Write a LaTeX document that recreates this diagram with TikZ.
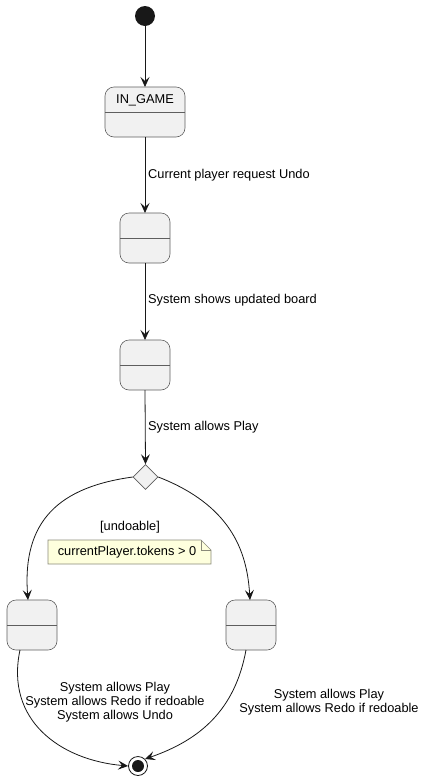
\documentclass[tikz,border=0pt]{standalone}
\usepackage{fontspec}
\setmainfont{Liberation Sans}
\usetikzlibrary{arrows.meta,shapes.geometric}
\definecolor{boxfill}{HTML}{F1F1F1}
\definecolor{boxline}{HTML}{5E5E5E}
\definecolor{linec}{HTML}{181818}
\definecolor{notefill}{HTML}{FEFFDD}
\definecolor{noteline}{HTML}{8A8A7A}
\begin{document}
\begin{tikzpicture}[x=1pt,y=-1pt,
  arr/.style={draw=linec,line width=0.8pt,-{Stealth[length=10pt,width=9pt,inset=4pt]}},
  lbl/.style={font=\fontsize{12.8}{14}\selectfont,inner sep=0pt,align=center},
  stbox/.style={draw=boxline,fill=boxfill,rounded corners=9pt,line width=0.6pt}]
\useasboundingbox (0,0) rectangle (427,780);
% start
\node[circle,fill=linec,minimum size=20pt,inner sep=0pt] (start) at (145,16) {};
% IN_GAME
\draw[stbox] (105,87) rectangle (185,137);
\draw[boxline,line width=0.6pt] (105,112) -- (185,112);
\node[lbl] (ingame) at (145,100) {IN\_GAME};
\coordinate (ingT) at (145,87);
\coordinate (ingB) at (145,137);
% box 2
\draw[stbox] (120,213) rectangle (170,263);
\draw[boxline,line width=0.6pt] (120,238) -- (170,238);
\coordinate (b2T) at (145,213);
\coordinate (b2B) at (145,263);
% box 3
\draw[stbox] (120,340) rectangle (170,390);
\draw[boxline,line width=0.6pt] (120,365) -- (170,365);
\coordinate (b3T) at (145,340);
\coordinate (b3B) at (145,390);
% diamond
\node[diamond,draw=boxline,fill=boxfill,minimum width=25pt,minimum height=25pt,inner sep=0pt,line width=0.6pt] (dec) at (145.5,477) {};
% left box
\draw[stbox] (7,600) rectangle (57,650);
\draw[boxline,line width=0.6pt] (7,625) -- (57,625);
\coordinate (lT) at (28,600);
\coordinate (lB) at (20,650);
% right box
\draw[stbox] (226,600) rectangle (276,650);
\draw[boxline,line width=0.6pt] (226,625) -- (276,625);
\coordinate (rT) at (250,600);
\coordinate (rB) at (246,650);
% final
\node[circle,draw=linec,fill=white,line width=0.8pt,minimum size=19pt,inner sep=0pt] (fin) at (138,766) {};
\node[circle,fill=linec,minimum size=12pt,inner sep=0pt] at (fin) {};
% arrows
\draw[arr] (start) -- (ingT);
\draw[arr] (ingB) -- (b2T);
\draw[arr] (b2B) -- (b3T);
\draw[arr] (b3B) -- (dec.north);
\draw[arr] (dec.west) .. controls (60,487) and (22,520) .. (lT);
\draw[arr] (dec.east) .. controls (230,505) and (247,550) .. (rT);
\draw[arr] (lB) .. controls (5,720) and (60,760) .. (fin.west);
\draw[arr] (rB) .. controls (235,710) and (200,740) .. (fin.north east);
% labels
\node[lbl,anchor=west] (l1) at (148,175) {Current player request Undo};
\node[lbl,anchor=west] (l2) at (148,300) {System shows updated board};
\node[lbl,anchor=west] (l3) at (148,427) {System allows Play};
\node[lbl] (l4) at (130,527) {[undoable]};
% note
\draw[draw=noteline,fill=notefill,line width=0.6pt] (48,540) -- (201,540) -- (211,550) -- (211,564) -- (48,564) -- cycle;
\draw[draw=noteline,line width=0.6pt] (201,540) -- (201,550) -- (211,550);
\node[lbl] (note) at (127,552) {currentPlayer.tokens > 0};
\node[lbl] (l5) at (115,702) {System allows Play\\System allows Redo if redoable\\System allows Undo};
\node[lbl] (l6) at (329,702) {System allows Play\\System allows Redo if redoable};
\end{tikzpicture}
\end{document}
